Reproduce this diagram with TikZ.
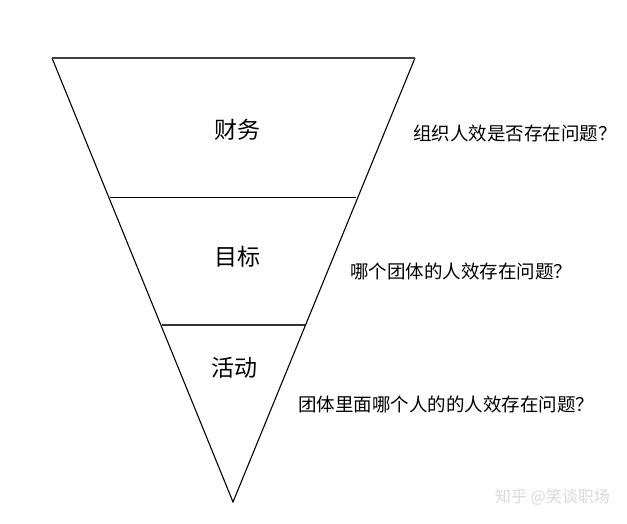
\documentclass[tikz,border=0pt]{standalone}
\usepackage{fontspec}
\newfontfamily\cjk{Noto Sans CJK SC}
\begin{document}
\begin{tikzpicture}[x=1pt,y=-1pt,
  layer/.style={font=\cjk\fontsize{23}{25}\selectfont, inner sep=0pt},
  question/.style={font=\cjk\fontsize{18.5}{21}\selectfont, inner sep=0pt, anchor=west},
  wmark/.style={font=\cjk\fontsize{16}{18}\selectfont, text=gray!30, inner sep=0pt, anchor=east}]
\useasboundingbox (0,0) rectangle (627,524);
\fill[white] (0,0) rectangle (627,524);
\coordinate (tl) at (52,58);
\coordinate (tr) at (415,58);
\coordinate (ap) at (233,502);
\coordinate (l1) at (110,198);
\coordinate (r1) at (356,198);
\coordinate (l2) at (162,325);
\coordinate (r2) at (305,325);
\draw[line width=1.1pt] (tl) -- (ap) -- (tr);
\draw[line width=1.8pt, black!75] (tl) -- (tr);
\draw[line width=1pt] (l1) -- (r1);
\draw[line width=1.3pt, black!80] (l2) -- (r2);
\node[layer] (n1) at (237,130) {财务};
\node[layer] (n2) at (237,257) {目标};
\node[layer] (n3) at (234,368) {活动};
\node[question] (q1) at (413,133) {组织人效是否存在问题？};
\node[question] (q2) at (350,271) {哪个团体的人效存在问题？};
\node[question] (q3) at (298,404) {团体里面哪个人的的人效存在问题？};
\node[wmark] (wm) at (610,497) {知乎 @笑谈职场};
\end{tikzpicture}
\end{document}
